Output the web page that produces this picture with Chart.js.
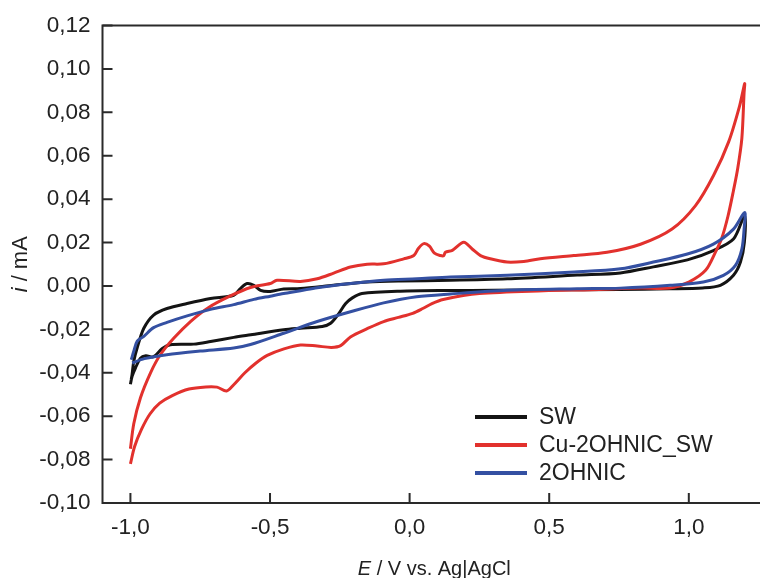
<!DOCTYPE html>
<html><head><meta charset="utf-8">
<script src="https://cdn.jsdelivr.net/npm/chart.js@4.4.0/dist/chart.umd.min.js"></script>
<style>html,body{margin:0;padding:0;background:#fff}canvas{display:block}</style>
</head><body>
<canvas id="c" width="760" height="578"></canvas>
<script>
const seriesNames = ['SW', 'Cu-2OHNIC_SW', '2OHNIC'];
const seriesColors = ['#141414', '#e2312d', '#3450a2'];
const xTicks = [-1.0, -0.5, 0.0, 0.5, 1.0];
const yTicks = [-0.10, -0.08, -0.06, -0.04, -0.02, 0.00, 0.02, 0.04, 0.06, 0.08, 0.10, 0.12];

// SW (black): forward scan then reverse scan
const swE = [-0.997, -0.994, -0.988, -0.976, -0.952, -0.917, -0.869, -0.797, -0.713, -0.630, -0.606, -0.582, -0.558, -0.534, -0.499, -0.451, -0.391, -0.273, -0.151, -0.033, 0.146, 0.350, 0.600, 0.755, 0.873, 0.995, 1.088, 1.160, 1.200,
  1.199, 1.185, 1.160, 1.113, 1.050, 0.930, 0.750, 0.500, 0.300, 0.146, -0.033, -0.171, -0.205, -0.229, -0.253, -0.283, -0.313, -0.391, -0.451, -0.569, -0.630, -0.713, -0.773, -0.857, -0.887, -0.917, -0.945, -0.964, -0.982, -0.994, -1.000];
const swI = [-0.0430, -0.0408, -0.0347, -0.0286, -0.0195, -0.0134, -0.0104, -0.0081, -0.0058, -0.0043, -0.0012, 0.0011, 0.0003, -0.0020, -0.0025, -0.0014, -0.0012, 0.0003, 0.0018, 0.0023, 0.0026, 0.0033, 0.0050, 0.0060, 0.0088, 0.0120, 0.0163, 0.0216, 0.0324,
  0.0201, 0.0110, 0.0049, 0.0003, -0.0009, -0.0013, -0.0016, -0.0018, -0.0020, -0.0021, -0.0024, -0.0035, -0.0055, -0.0081, -0.0126, -0.0172, -0.0187, -0.0195, -0.0202, -0.0225, -0.0237, -0.0256, -0.0268, -0.0271, -0.0289, -0.0326, -0.0322, -0.0333, -0.0378, -0.0416, -0.0453];

// Cu-2OHNIC_SW (red)
const cuE = [-1.000, -0.988, -0.964, -0.928, -0.893, -0.845, -0.785, -0.721, -0.642, -0.570, -0.499, -0.475, -0.391, -0.331, -0.272, -0.212, -0.152, -0.093, -0.021, 0.015, 0.032, 0.051, 0.071, 0.089, 0.110, 0.122, 0.128, 0.153, 0.194, 0.225, 0.254, 0.289, 0.349, 0.409, 0.468, 0.588, 0.707, 0.827, 0.940, 1.024, 1.089, 1.143, 1.182, 1.200,
  1.198, 1.190, 1.175, 1.160, 1.140, 1.118, 1.095, 1.060, 1.000, 0.930, 0.830, 0.650, 0.480, 0.250, 0.120, 0.080, 0.047, 0.011, -0.040, -0.093, -0.152, -0.212, -0.247, -0.280, -0.331, -0.391, -0.450, -0.510, -0.550, -0.590, -0.630, -0.656, -0.690, -0.730, -0.790, -0.850, -0.895, -0.930, -0.960, -0.985, -1.000];
const cuI = [-0.0750, -0.0635, -0.0515, -0.0400, -0.0317, -0.0241, -0.0164, -0.0100, -0.0046, -0.0007, 0.0011, 0.0026, 0.0021, 0.0033, 0.0059, 0.0087, 0.0100, 0.0102, 0.0125, 0.0140, 0.0174, 0.0195, 0.0183, 0.0151, 0.0140, 0.0139, 0.0155, 0.0164, 0.0201, 0.0169, 0.0140, 0.0125, 0.0110, 0.0113, 0.0125, 0.0140, 0.0155, 0.0192, 0.0262, 0.0370, 0.0510, 0.0665, 0.0830, 0.0932,
  0.0890, 0.0680, 0.0540, 0.0440, 0.0320, 0.0220, 0.0155, 0.0072, 0.0018, -0.0010, -0.0010, -0.0017, -0.0022, -0.0035, -0.0062, -0.0081, -0.0104, -0.0126, -0.0145, -0.0164, -0.0197, -0.0235, -0.0275, -0.0283, -0.0277, -0.0272, -0.0290, -0.0320, -0.0355, -0.0400, -0.0455, -0.0484, -0.0466, -0.0465, -0.0475, -0.0505, -0.0540, -0.0590, -0.0660, -0.0740, -0.0820];

// 2OHNIC (blue)
const ohE = [-0.997, -0.988, -0.976, -0.952, -0.917, -0.869, -0.797, -0.713, -0.630, -0.558, -0.499, -0.451, -0.391, -0.331, -0.212, -0.093, 0.026, 0.146, 0.350, 0.590, 0.755, 0.873, 0.995, 1.088, 1.160, 1.200,
  1.198, 1.190, 1.167, 1.124, 1.052, 0.934, 0.755, 0.600, 0.350, 0.146, 0.025, -0.093, -0.212, -0.331, -0.451, -0.570, -0.630, -0.750, -0.870, -0.950, -0.994];
const ohI = [-0.0340, -0.0301, -0.0255, -0.0232, -0.0192, -0.0168, -0.0138, -0.0108, -0.0086, -0.0062, -0.0047, -0.0035, -0.0022, -0.0008, 0.0011, 0.0026, 0.0033, 0.0041, 0.0049, 0.0064, 0.0079, 0.0110, 0.0147, 0.0193, 0.0262, 0.0338,
  0.0262, 0.0170, 0.0095, 0.0049, 0.0018, 0.0003, -0.0010, -0.0013, -0.0020, -0.0037, -0.0050, -0.0078, -0.0119, -0.0164, -0.0218, -0.0270, -0.0286, -0.0300, -0.0317, -0.0335, -0.0355];

const FONT = '"Liberation Sans", Arial, Helvetica, sans-serif';
function pts(E, I) { return E.map((e, k) => ({ x: e, y: I[k] })); }
function fmt(v, d) { if (Math.abs(v) < 1e-9) v = 0; return v.toFixed(d).replace('.', ','); }

const framePlugin = {
  id: 'frame',
  afterDatasetsDraw(chart) {
    const { ctx, chartArea: a, scales: { x, y } } = chart;
    ctx.save();
    ctx.strokeStyle = '#2a2a2a';
    ctx.lineWidth = 2;
    ctx.beginPath();
    ctx.moveTo(a.right, a.top); ctx.lineTo(a.left, a.top);
    ctx.lineTo(a.left, a.bottom); ctx.lineTo(a.right, a.bottom);
    ctx.stroke();
    ctx.beginPath();
    y.ticks.forEach(t => { const p = y.getPixelForValue(t.value); ctx.moveTo(a.left, p); ctx.lineTo(a.left + 10, p); });
    x.ticks.forEach(t => { const p = x.getPixelForValue(t.value); ctx.moveTo(p, a.bottom); ctx.lineTo(p, a.bottom - 10); });
    ctx.stroke();
    ctx.restore();
  }
};

const titlePlugin = {
  id: 'titles',
  afterDraw(chart) {
    const { ctx, chartArea: a } = chart;
    ctx.save();
    ctx.fillStyle = '#222';
    ctx.textBaseline = 'alphabetic';
    const xi = 'italic 20px ' + FONT, xn = '20px ' + FONT;
    const p1 = 'E', p2 = ' / V vs. Ag|AgCl';
    ctx.font = xi; const w1 = ctx.measureText(p1).width;
    ctx.font = xn; const w2 = ctx.measureText(p2).width;
    let sx = (a.left + a.right) / 2 + 3 - (w1 + w2) / 2;
    ctx.font = xi; ctx.fillText(p1, sx, 575);
    ctx.font = xn; ctx.fillText(p2, sx + w1, 575);
    ctx.translate(27, (a.top + a.bottom) / 2);
    ctx.rotate(-Math.PI / 2);
    const yi = 'italic 22px ' + FONT, yn = '22px ' + FONT;
    const q1 = 'i', q2 = ' / mA';
    ctx.font = yi; const v1 = ctx.measureText(q1).width;
    ctx.font = yn; const v2 = ctx.measureText(q2).width;
    const sy = -(v1 + v2) / 2;
    ctx.font = yi; ctx.fillText(q1, sy, 0);
    ctx.font = yn; ctx.fillText(q2, sy + v1, 0);
    ctx.restore();
  }
};

const legendPlugin = {
  id: 'innerLegend',
  afterDraw(chart) {
    const { ctx } = chart;
    ctx.save();
    ctx.font = '23px ' + FONT;
    ctx.textBaseline = 'middle';
    chart.data.datasets.forEach((ds, i) => {
      const yy = 417 + 28 * i;
      ctx.strokeStyle = ds.borderColor;
      ctx.lineWidth = 4;
      ctx.beginPath(); ctx.moveTo(475, yy); ctx.lineTo(527, yy); ctx.stroke();
      ctx.fillStyle = '#222';
      ctx.fillText(ds.label, 539, yy + 1);
    });
    ctx.restore();
  }
};

new Chart(document.getElementById('c'), {
  type: 'scatter',
  data: {
    datasets: [
      { label: seriesNames[0], data: pts(swE, swI), borderColor: seriesColors[0], showLine: true, order: 3 },
      { label: seriesNames[1], data: pts(cuE, cuI), borderColor: seriesColors[1], showLine: true, order: 2 },
      { label: seriesNames[2], data: pts(ohE, ohI), borderColor: seriesColors[2], showLine: true, order: 1 }
    ]
  },
  options: {
    responsive: false,
    animation: false,
    devicePixelRatio: 1,
    layout: { padding: { top: 21, right: 0, left: 0, bottom: 0 } },
    elements: { point: { radius: 0 }, line: { borderWidth: 3, tension: 0.3, fill: false } },
    plugins: { legend: { display: false }, tooltip: { enabled: false } },
    scales: {
      x: {
        type: 'linear', min: -1.1, max: 1.255,
        afterBuildTicks: s => { s.ticks = xTicks.map(v => ({ value: v })); },
        afterFit: s => { s.height = 75; },
        grid: { display: false, drawTicks: false },
        border: { display: false },
        ticks: { padding: 11, color: '#222', font: { family: FONT, size: 22.5 }, maxRotation: 0, autoSkip: false, callback: v => fmt(v, 1) }
      },
      y: {
        type: 'linear', min: -0.10, max: 0.12,
        afterBuildTicks: s => { s.ticks = yTicks.map(v => ({ value: v })); },
        afterFit: s => { s.width = 102.5; },
        grid: { display: false, drawTicks: false },
        border: { display: false },
        ticks: { padding: 12, color: '#222', font: { family: FONT, size: 22.5 }, autoSkip: false, callback: v => fmt(v, 2) }
      }
    }
  },
  plugins: [framePlugin, titlePlugin, legendPlugin]
});
</script>
</body></html>
